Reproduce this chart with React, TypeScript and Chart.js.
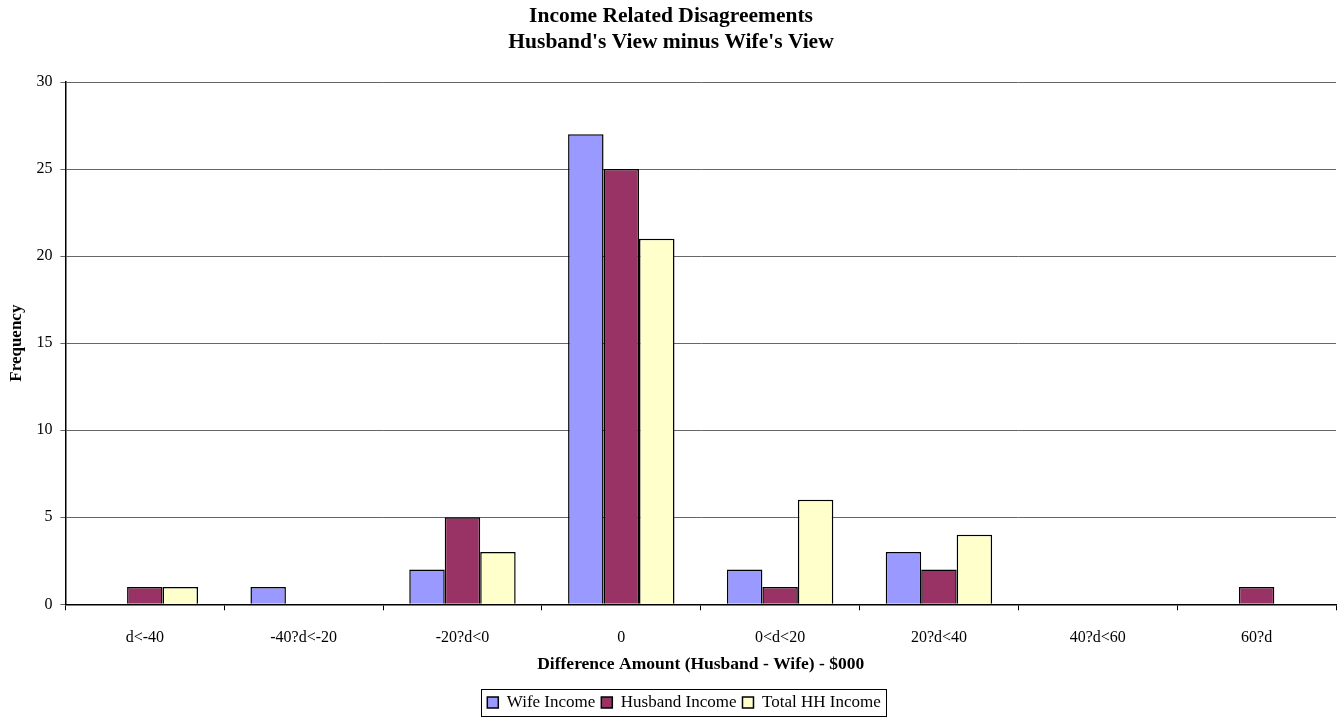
import React, { useEffect, useRef } from "react";
import { Chart, registerables } from "chart.js";

Chart.register(...registerables);

const categories = ["d<-40", "-40?d<-20", "-20?d<0", "0", "0<d<20", "20?d<40", "40?d<60", "60?d"];
const wifeIncome = [0, 1, 2, 27, 2, 3, 0, 0];
const husbandIncome = [1, 0, 5, 25, 1, 2, 0, 1];
const totalHHIncome = [1, 0, 3, 21, 6, 4, 0, 0];
const yTicks = [0, 5, 10, 15, 20, 25, 30];

const SERIF = "'Liberation Serif', 'Times New Roman', serif";
const LEGEND_SHIFT = 13;

// Nudges the legend a little right of centre and frames its entries
const legendFrame = {
  id: "legendFrame",
  afterLayout(chart: any) {
    const lg = chart.legend;
    if (!lg) return;
    lg.left += LEGEND_SHIFT;
    lg.right += LEGEND_SHIFT;
    (lg.legendHitBoxes || []).forEach((b: any) => (b.left += LEGEND_SHIFT));
  },
  afterDraw(chart: any) {
    const boxes = chart.legend?.legendHitBoxes;
    if (!boxes || !boxes.length) return;
    const left = Math.min(...boxes.map((b: any) => b.left)) - 6;
    const right = Math.max(...boxes.map((b: any) => b.left + b.width)) + 6;
    const top = Math.min(...boxes.map((b: any) => b.top)) - 5;
    const bottom = Math.max(...boxes.map((b: any) => b.top + b.height)) + 5;
    const ctx = chart.ctx;
    ctx.save();
    ctx.strokeStyle = "#000";
    ctx.lineWidth = 1;
    ctx.strokeRect(Math.round(left) + 0.5, Math.round(top) + 0.5, Math.round(right - left), Math.round(bottom - top));
    ctx.restore();
  },
};

export default function App() {
  const canvasRef = useRef<HTMLCanvasElement>(null);

  useEffect(() => {
    document.body.style.margin = "0";
    const ctx = canvasRef.current!;
    const mk = (label: string, data: number[], color: string) => ({
      label,
      data,
      backgroundColor: color,
      borderColor: "#000",
      borderWidth: 1.5,
      categoryPercentage: 0.67,
      barPercentage: 1,
    });
    const chart = new Chart(ctx, {
      type: "bar",
      data: {
        labels: categories,
        datasets: [
          mk("Wife Income", wifeIncome, "#9999FF"),
          mk("Husband Income", husbandIncome, "#993366"),
          mk("Total HH Income", totalHHIncome, "#FFFFCC"),
        ],
      },
      plugins: [legendFrame],
      options: {
        animation: false,
        responsive: false,
        maintainAspectRatio: false,
        layout: { padding: { left: 6, right: 5, top: 0, bottom: -4 } },
        plugins: {
          title: {
            display: true,
            text: ["Income Related Disagreements", "Husband's View minus Wife's View"],
            color: "#000",
            font: { family: SERIF, size: 21.5, weight: "bold", lineHeight: 1.21 },
            padding: { top: 3, bottom: 27 },
          },
          legend: {
            position: "bottom",
            labels: {
              color: "#000",
              font: { family: SERIF, size: 17 },
              boxWidth: 11,
              boxHeight: 11,
              padding: 6,
            },
          },
          tooltip: { enabled: false },
        },
        scales: {
          x: {
            grid: {
              display: true,
              drawOnChartArea: false,
              drawTicks: true,
              tickLength: 6,
              offset: true,
              color: "#000",
            },
            border: { color: "#000", width: 1.5 },
            ticks: { color: "#000", font: { family: SERIF, size: 16 }, padding: 18, maxRotation: 0 },
            title: {
              display: true,
              text: "Difference Amount (Husband - Wife) - $000",
              color: "#000",
              font: { family: SERIF, size: 17.5, weight: "bold" },
              padding: { top: -12, bottom: 13.5 },
            },
          },
          y: {
            min: 0,
            max: 30,
            afterBuildTicks: (axis: any) => {
              axis.ticks = yTicks.map((v) => ({ value: v }));
            },
            grid: { color: "#666", tickLength: 5, drawTicks: true },
            border: { color: "#000", width: 1.5 },
            ticks: { color: "#000", font: { family: SERIF, size: 16 }, padding: 8 },
            title: {
              display: true,
              text: "Frequency",
              color: "#000",
              font: { family: SERIF, size: 17, weight: "bold" },
              padding: { top: 0, bottom: 2 },
            },
          },
        },
      },
    } as any);
    return () => chart.destroy();
  }, []);

  return (
    <div style={{ position: "relative", width: 1341, height: 717, background: "#fff" }}>
      <canvas ref={canvasRef} width={1341} height={717} style={{ display: "block" }} />
    </div>
  );
}
